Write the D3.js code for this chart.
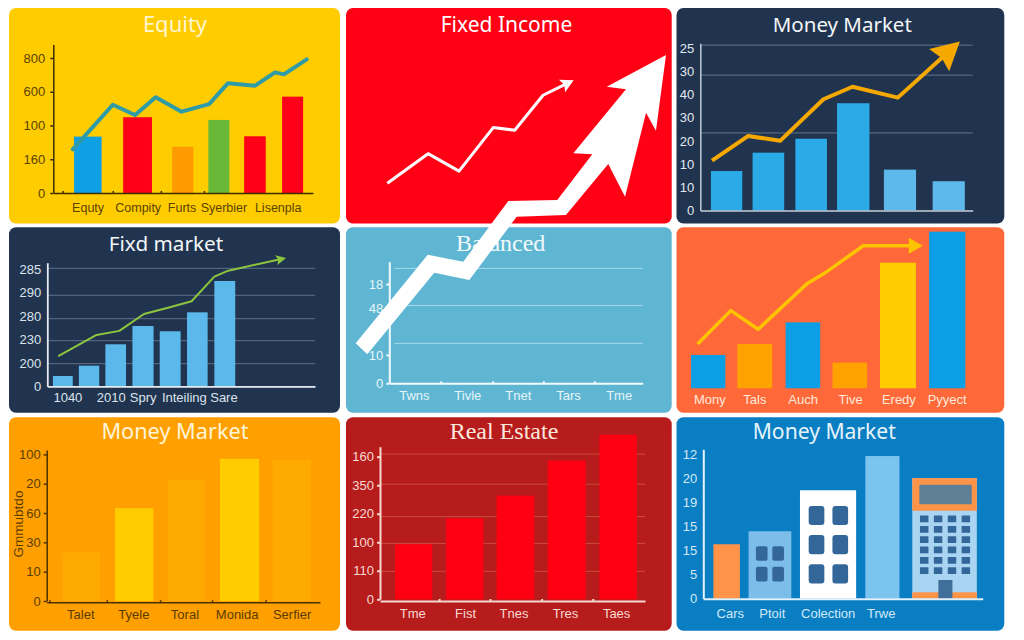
<!DOCTYPE html>
<html><head><meta charset="utf-8">
<script src="https://cdn.jsdelivr.net/npm/d3@7"></script>
<style>html,body{margin:0;padding:0;background:#fff;overflow:hidden}svg{display:block}</style>
</head><body><svg id="c" width="1024" height="640"></svg>
<script>
// ---------- data ----------
const equityCats=["Equty","Compity","Furts","Syerbier","Lisenpla"];
const equityCatAt=[13.2,32.5,49.4,65.5,86.4];
const equityYTicks=[0,200,400,600,800];
const equityYLabels=["0","160","100","600","800"];
const equityBarFrom=[8,26.9,45.8,59.7,73.5,88.1];
const equityBarTo=[18.6,38,53.9,67.8,81.8,96.2];
const equityBars=[334,449,274,433,336,571];
const equityLineX=[7.5,22.9,31.5,39.4,49.4,60,67.2,77.7,85.4,88.8,97.6];
const equityLineY=[259,523,462,567,482,527,650,636,715,703,792];

const fixedLineX=[12.7,25.2,34.7,45.2,51.8,60.5,69.9];
const fixedLineY=[18.7,32.4,24.3,44.5,43.3,59.5,66.5];

const moneyACatsTicks=[0,10,20,30,40,50,60,70];
const moneyAYLabels=["0","10","10","20","30","40","30","25"];
const moneyAGrid=[33.4,58.3,71.2];
const moneyABarFrom=[3.9,19.2,34.9,50.2,67.4,85.3];
const moneyABarTo=[15.4,30.8,46.5,62.1,79.2,97.1];
const moneyABars=[17,24.9,30.9,46.2,17.6,12.6];
const moneyALineX=[4.3,17.6,29.3,45.2,55.9,72.5,95.3];
const moneyALineY=[21.5,32.1,30,47.9,53.3,48.6,72.8];

const fixdCats=["1040","2010","Spry","Inteiling","Sare"];
const fixdCatAt=[7.5,23.7,35.6,51,65.8];
const fixdYTicks=[0,50,100,150,200,250];
const fixdYLabels=["0","200","230","280","290","285"];
const fixdGrid=[48.3,97.4,144.4,194.4,252];
const fixdBarFrom=[2.1,11.8,21.7,31.8,42,52.2,62.4];
const fixdBarTo=[9.5,19.4,29.4,39.7,49.8,59.9,70.2];
const fixdBars=[22,44,89.7,128.8,117.5,158,225];
const fixdLineX=[4.1,18.4,26.9,36.1,45.8,53.9,62.4,67.6,89.2];
const fixdLineY=[64.7,109.8,118.4,154.5,168.8,181.6,234.2,247,274];

const balancedCats=["Twns","Tivle","Tnet","Tars","Tme"];
const balancedCatAt=[9.7,30.8,50.7,70.5,90.5];
const balancedMarks=[20.3,40.8,60.8,80.9];
const balancedYTicks=[0,14,37,49];
const balancedYLabels=["0","10","48","18"];
const balancedGrid=[19.7,38.4,56.7];

const orangeCats=["Mony","Tals","Auch","Tive","Eredy","Pyyect"];
const orangeCatAt=[6.7,23.1,40.7,58,75.6,93.2];
const orangeBarFrom=[0,16.9,34.5,51.6,68.9,86.8];
const orangeBarTo=[12.5,29.6,47.1,64.2,82,100];
const orangeBars=[21.3,28.3,42.1,16.4,80.2,100];
const orangeLineX=[2.4,14.5,24.5,42.4,49.5,62.8,84.5];
const orangeLineY=[28.3,49.6,37.7,67,74.5,91,91];

const moneyBCats=["Talet","Tyele","Toral","Monida","Serfier"];
const moneyBCatAt=[12.3,31.7,50.4,69.5,89.6];
const moneyBMarks=[1,22,41.5,60.5,80.1];
const moneyBYTicks=[0,20,40,60,80,100];
const moneyBYLabels=["0","10","30","60","20","100"];
const moneyBBarFrom=[5.7,25,44.3,63.4,82.7];
const moneyBBarTo=[19.5,39,57.9,77.7,96.7];
const moneyBBars=[33.3,63.3,82.7,97,96.3];

const estateCats=["Tme","Fist","Tnes","Tres","Taes"];
const estateCatAt=[12.2,32.1,50.4,69.8,89.1];
const estateMarks=[22.3,41.5,61,80.3];
const estateYTicks=[0,20,40,60,80,100];
const estateYLabels=["0","110","100","220","350","160"];
const estateGrid=[19.6,39.2,58,80.7,101.8];
const estateBarFrom=[5.7,24.9,44,63.3,82.8];
const estateBarTo=[19.7,39,58.2,77.6,96.9];
const estateBars=[38.6,56.8,72.7,97.3,115.3];

const towerCats=["Cars","Ptoit","Colection","Trwe"];
const towerCatAt=[9.5,24.5,44.5,63.5];
const towerYTicks=[0,5,10,15,20,25,30];
const towerYLabels=["0","5","15","15","19","20","12"];
const towerBarFrom=[3.6,16.2,34.6,58,74.8];
const towerBarTo=[13.1,31.5,54.7,70.2,97.9];
const towerBars=[11.3,14,22.5,29.6,25];

// big white arrow, in percent of the whole picture
const bigArrowX=[34.74,41.77,45.24,49.64,54.42,57.84,55.99,61.13,59.25,65.04,64.06,63.09,61.04,59.40,55.27,50.46,45.83,42.41,35.87];
const bigArrowY=[46.36,60.20,59.11,68.59,68.75,75.89,76.05,86.05,86.45,91.41,79.58,82.39,69.27,74.38,66.41,66.14,56.25,57.39,44.64];

// ---------- styles and layout ----------
const svg=d3.select("#c");
const TITLE='"Noto Sans",sans-serif', SERIF='"Liberation Serif",serif', LABEL='"Liberation Sans",Arial,sans-serif';
const H1=[8,223.5],H2=[227.3,412.7],H3=[417.3,630.7];
const C1=[9,340],C2=[346,671.7],C3=[676.5,1004.3];

function panel(o){
  const g=svg.append("g");
  g.append("rect").attr("x",o.cx[0]).attr("y",o.cy[0]).attr("width",o.cx[1]-o.cx[0]).attr("height",o.cy[1]-o.cy[0]).attr("rx",7).attr("fill",o.fill);
  const x=d3.scaleLinear().domain([0,100]).range(o.xr);
  const y=d3.scaleLinear().domain([0,o.yMax]).range(o.yr);
  if(o.grid) g.append("g").selectAll("line").data(o.grid).join("line")
    .attr("x1",x(o.gridFrom||0)).attr("x2",x(100)).attr("y1",d=>y(d)).attr("y2",d=>y(d))
    .attr("stroke",o.gridColor).attr("stroke-width",1);
  if(o.bars) g.append("g").selectAll("rect").data(o.bars).join("rect")
    .attr("x",(d,i)=>x(o.from[i])).attr("width",(d,i)=>x(o.to[i])-x(o.from[i]))
    .attr("y",d=>y(d)).attr("height",d=>y(0)-y(d)).attr("fill",(d,i)=>o.barColors[i%o.barColors.length]);
  if(o.after) o.after(g,x,y);
  if(o.yTicks){
    const a=g.append("g").attr("transform",`translate(${o.xr[0]},0)`)
      .call(d3.axisLeft(y).tickValues(o.yTicks).tickFormat((d,i)=>o.yLabels[i]).tickSize(o.yTickSize===undefined?3:o.yTickSize).tickPadding(o.yPad||3).tickSizeOuter(0));
    a.selectAll("path,line").attr("stroke",o.axisColor).attr("stroke-width",o.axisW||1.5);
    a.selectAll("text").attr("fill",o.labelColor).style("font",`${o.yFont||13}px ${LABEL}`);
  }
  if(o.cats){
    const base=o.axisY===undefined?o.yr[0]:o.axisY;
    const m=g.append("g").attr("transform",`translate(0,${base})`)
      .call(d3.axisBottom(x).tickValues(o.marks||[]).tickFormat("").tickSize(o.marks?-2:0).tickSizeOuter(0));
    m.selectAll("path,line").attr("stroke",o.noXLine?"none":o.axisColor).attr("stroke-width",o.axisW||1.5);
    const t=g.append("g").attr("transform",`translate(0,${base})`)
      .call(d3.axisBottom(x).tickValues(o.catAt).tickFormat((d,i)=>o.cats[i]).tickSize(0).tickPadding(o.xPad));
    t.select("path").remove();
    t.selectAll("text").attr("fill",o.labelColor).style("font",`${o.xFont||13}px ${LABEL}`);
  }
  if(o.lineX){
    const pts=o.lineX.map((d,i)=>[x(d),y(o.lineY[i])]);
    const tip=pts[pts.length-1], prev=pts[pts.length-2];
    if(o.head){
      const L=Math.hypot(tip[0]-prev[0],tip[1]-prev[1]),ux=(tip[0]-prev[0])/L,uy=(tip[1]-prev[1])/L;
      const h=o.head,draw=pts.slice(0,-1);
      draw.push([tip[0]-ux*h.len*.6,tip[1]-uy*h.len*.6]);
      g.append("path").attr("d",d3.line()(draw)).attr("fill","none").attr("stroke",o.lineColor).attr("stroke-width",o.lineW).attr("stroke-linejoin","round");
      const bx=tip[0]-ux*h.len,by=tip[1]-uy*h.len,nx=tip[0]-ux*h.len*(1-h.notch),ny=tip[1]-uy*h.len*(1-h.notch);
      g.append("path").attr("d",d3.line()([tip,[bx-uy*h.half,by+ux*h.half],[nx,ny],[bx+uy*h.half,by-ux*h.half]])+"Z").attr("fill",o.lineColor);
    } else {
      g.append("path").attr("d",d3.line()(pts)).attr("fill","none").attr("stroke",o.lineColor).attr("stroke-width",o.lineW).attr("stroke-linejoin","round").attr("stroke-linecap","round");
    }
  }
  if(o.title) g.append("text").attr("x",o.titleX).attr("y",o.titleY).attr("text-anchor","middle").attr("fill",o.titleColor||"#fff")
    .style("font",`${o.titleSize||22}px ${o.titleFont||TITLE}`).text(o.title);
}

panel({cx:C1,cy:H1,fill:"#FFCC00",title:"Equity",titleX:175,titleY:32,titleColor:"#FFF6D0",titleSize:22,
  xr:[53.3,313],yr:[193,44.5],yMax:880,yTicks:equityYTicks,yLabels:equityYLabels,yPad:5,
  axisColor:"#3d2c00",labelColor:"#5a4200",xPad:10,xFont:12.5,yFont:13,
  cats:equityCats,catAt:equityCatAt,marks:[3.6,22.9,41.4,58],
  bars:equityBars,from:equityBarFrom,to:equityBarTo,barColors:["#0F9FE3","#FF0018","#FF9A00","#69B838","#FF0018","#FF0018"],
  lineX:equityLineX,lineY:equityLineY,lineColor:"#2F9BA6",lineW:4});

panel({cx:C2,cy:H1,fill:"#FF0014",title:"Fixed Income",titleX:506.5,titleY:32,titleSize:21,
  xr:[346,671.7],yr:[223.5,8],yMax:100,
  lineX:fixedLineX,lineY:fixedLineY,lineColor:"#fff",lineW:3,head:{len:13,half:7,notch:.2}});

panel({cx:C3,cy:H1,fill:"#20344F",title:"Money Market",titleX:842.3,titleY:32,titleColor:"#F4F6F8",titleSize:20.5,
  xr:[700.3,972.7],yr:[210.5,43.3],yMax:72,yTicks:moneyACatsTicks,yLabels:moneyAYLabels,yPad:6,yTickSize:0,
  axisColor:"#C4CCD8",labelColor:"#E4E9F0",yFont:13,
  grid:moneyAGrid,gridColor:"#62738C",
  bars:moneyABars,from:moneyABarFrom,to:moneyABarTo,barColors:["#2BAAE8","#2BAAE8","#2BAAE8","#2BAAE8","#5DB8EC","#5DB8EC"],
  cats:[],catAt:[],xPad:6,
  lineX:moneyALineX,lineY:moneyALineY,lineColor:"#F5A800",lineW:4,head:{len:28,half:15,notch:.12}});

panel({cx:C1,cy:H2,fill:"#20344F",title:"Fixd market",titleX:166,titleY:250.5,titleColor:"#F4F6F8",titleSize:20.7,
  xr:[47.3,315],yr:[386.3,262.7],yMax:264,yTicks:fixdYTicks,yLabels:fixdYLabels,yPad:6,yTickSize:0,
  axisColor:"#E6EBF2",labelColor:"#DDE3EC",axisW:1.8,yFont:13,
  grid:fixdGrid,gridColor:"#5E7088",
  bars:fixdBars,from:fixdBarFrom,to:fixdBarTo,barColors:["#5BB8EA"],
  cats:fixdCats,catAt:fixdCatAt,xPad:6,xFont:13,
  lineX:fixdLineX,lineY:fixdLineY,lineColor:"#8CC63F",lineW:2,head:{len:10,half:5,notch:.2}});

panel({cx:C2,cy:H2,fill:"#5EB6D2",title:"Balanced",titleX:500.7,titleY:250.5,titleColor:"#F2FAFC",titleSize:24,titleFont:SERIF,
  xr:[389.3,642.7],yr:[383.3,261.7],yMax:60,yTicks:balancedYTicks,yLabels:balancedYLabels,yPad:3,
  axisColor:"#F3FAFC",labelColor:"#E6F5F9",axisW:2,yFont:13,
  grid:balancedGrid,gridColor:"#A6DAE8",gridFrom:2,
  cats:balancedCats,catAt:balancedCatAt,marks:balancedMarks,xPad:7,xFont:13});

panel({cx:C3,cy:H2,fill:"#FF6838",
  xr:[691,965.3],yr:[388.3,231.7],yMax:100,
  bars:orangeBars,from:orangeBarFrom,to:orangeBarTo,barColors:["#0C9FE6","#FFA200","#0C9FE6","#FFA200","#FFCC00","#0C9FE6"],
  cats:orangeCats,catAt:orangeCatAt,noXLine:true,xPad:6,xFont:13,axisColor:"#fff",labelColor:"#FFE8DC",
  lineX:orangeLineX,lineY:orangeLineY,lineColor:"#FFC400",lineW:3.5,head:{len:14,half:8,notch:0}});

panel({cx:C1,cy:H3,fill:"#FFA000",title:"Money Market",titleX:175,titleY:439,titleColor:"#FFF5D8",titleSize:21.7,
  xr:[46.7,320],yr:[601,450],yMax:103,yTicks:moneyBYTicks,yLabels:moneyBYLabels,yPad:3,
  axisColor:"#4A3000",labelColor:"#5A3C00",yFont:13,axisY:602.3,
  bars:moneyBBars,from:moneyBBarFrom,to:moneyBBarTo,barColors:["#FFAA00","#FFCC00"],
  cats:moneyBCats,catAt:moneyBCatAt,marks:moneyBMarks,xPad:7,xFont:13,
  after:(g)=>{g.append("text").attr("transform","translate(23,524) rotate(-90)").attr("text-anchor","middle").attr("fill","#5A3C00").style("font",`13.5px ${LABEL}`).text("Gmmubtdo");}});

panel({cx:C2,cy:H3,fill:"#B71C1C",title:"Real Estate",titleX:504,titleY:439,titleColor:"#FBE8DC",titleSize:24,titleFont:SERIF,
  xr:[380,645],yr:[599.3,446.7],yMax:107,yTicks:estateYTicks,yLabels:estateYLabels,yPad:3,
  axisColor:"#F4D8D0",labelColor:"#F6DAD2",axisW:2,yFont:13,axisY:601,
  grid:estateGrid,gridColor:"#CC4A3E",
  bars:estateBars,from:estateBarFrom,to:estateBarTo,barColors:["#FF0012"],
  cats:estateCats,catAt:estateCatAt,marks:estateMarks,xPad:8,xFont:13});

panel({cx:C3,cy:H3,fill:"#0A7EC2",title:"Money Market",titleX:824.3,titleY:439,titleColor:"#E6F4FC",titleSize:21.1,
  xr:[703.3,982.7],yr:[598.7,449.3],yMax:31,yTicks:towerYTicks,yLabels:towerYLabels,yPad:6,yTickSize:0,
  axisColor:"#E2F1FA",labelColor:"#D2E9F8",axisW:2,yFont:13,
  bars:towerBars,from:towerBarFrom,to:towerBarTo,barColors:["#FF9347","#7CBDEA","#FFFFFF","#7CC4F0","#A9D4F2"],
  cats:towerCats,catAt:towerCatAt,xPad:10,xFont:13,
  after:(g,x,y)=>{
    const WIN="#336699";
    const boxOf=i=>({x0:x(towerBarFrom[i]),x1:x(towerBarTo[i]),y0:y(towerBars[i]),y1:y(0)});
    const sub=(i,fx0,fx1,fy0,fy1,fill,r)=>{const b=boxOf(i),W=b.x1-b.x0,H=b.y1-b.y0;
      g.append("rect").attr("x",b.x0+W*fx0).attr("width",W*(fx1-fx0)).attr("y",b.y0+H*fy0).attr("height",H*(fy1-fy0)).attr("fill",fill).attr("rx",r||0);};
    const grid=(i,cols,rows,fx0,fx1,fy0,fy1,pad,fill,r)=>{const b=boxOf(i),W=b.x1-b.x0,H=b.y1-b.y0;
      const sx=d3.scaleBand().domain(d3.range(cols)).range([b.x0+W*fx0,b.x0+W*fx1]).paddingInner(pad[0]);
      const sy=d3.scaleBand().domain(d3.range(rows)).range([b.y0+H*fy0,b.y0+H*fy1]).paddingInner(pad[1]);
      d3.range(rows).forEach(r0=>d3.range(cols).forEach(c0=>g.append("rect").attr("x",sx(c0)).attr("y",sy(r0)).attr("width",sx.bandwidth()).attr("height",sy.bandwidth()).attr("fill",fill).attr("rx",r)));};
    grid(1,2,2,.172,.828,.222,.744,[.29,.29],WIN,2);
    grid(2,2,3,.155,.857,.144,.859,[.34,.34],WIN,3);
    sub(4,0,1,0,.27,"#FF9347");
    sub(4,.109,.922,.055,.216,"#5F7F96",1);
    grid(4,4,6,.119,.896,.31,.795,[.39,.35],WIN,0.5);
    sub(4,0,1,.947,1,"#FF9347");
    sub(4,.404,.622,.845,1,"#3F6F9A");
  }});

// big white arrow lies over the middle panels
const ax=d3.scaleLinear().domain([0,100]).range([0,1024]);
const ay=d3.scaleLinear().domain([0,100]).range([640,0]);
svg.append("path").attr("d",d3.line()(bigArrowX.map((d,i)=>[ax(d),ay(bigArrowY[i])]))+"Z").attr("fill","#fff");
</script></body></html>
